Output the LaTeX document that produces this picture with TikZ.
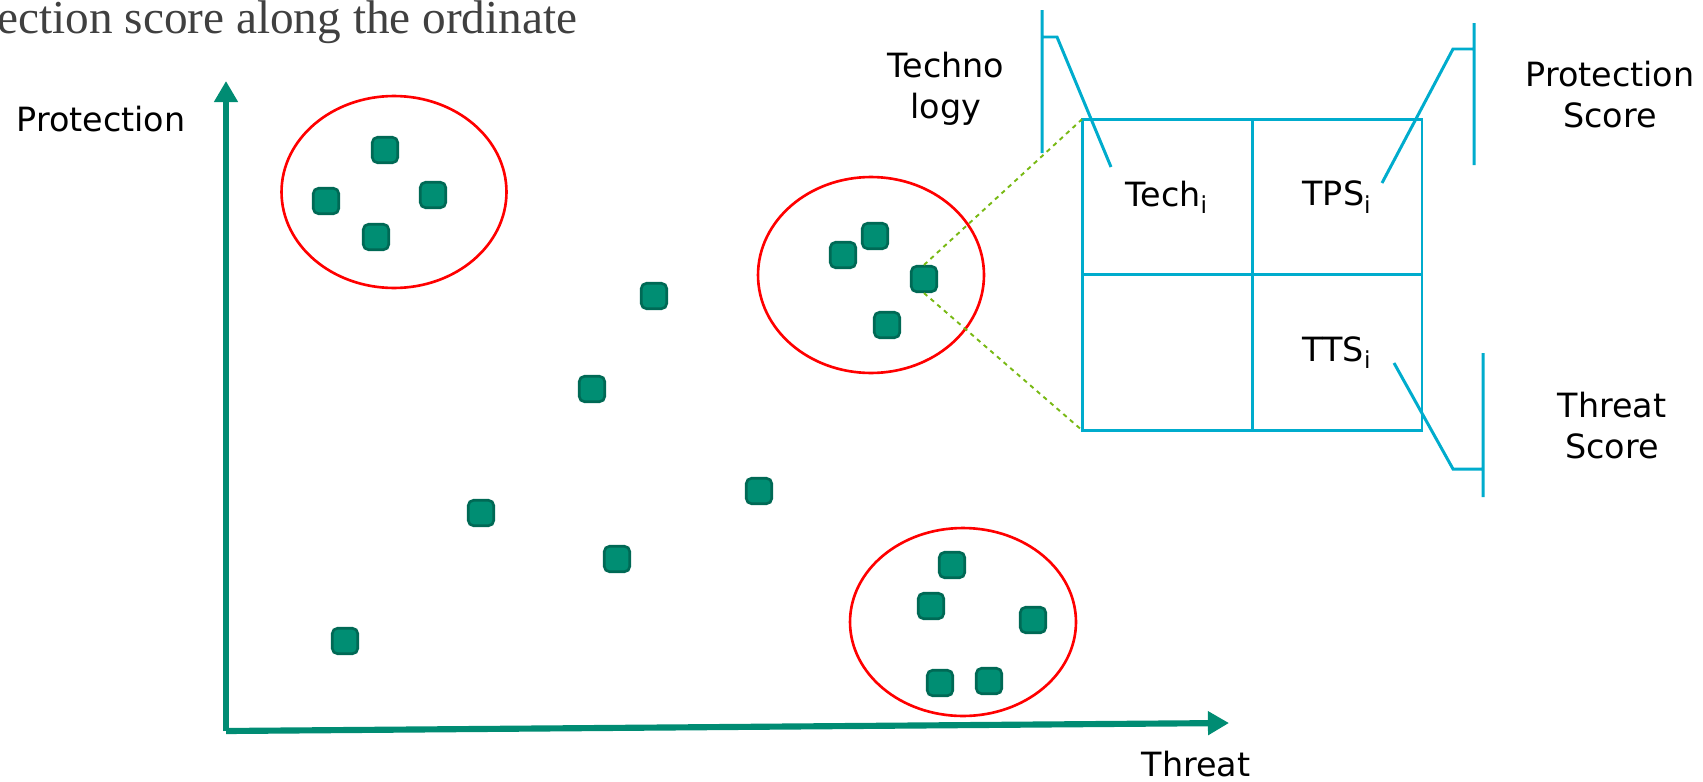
\documentclass[tikz,border=0pt]{standalone}
\usepackage{fontspec}
\setmainfont{DejaVu Sans}
\newfontfamily\titlefont{Liberation Serif}
\usetikzlibrary{arrows.meta,shapes.geometric}
\definecolor{axisteal}{RGB}{0,140,115}
\definecolor{ptfill}{RGB}{0,142,115}
\definecolor{ptdraw}{RGB}{0,105,85}
\definecolor{tabcyan}{RGB}{0,172,205}
\definecolor{linkgreen}{RGB}{120,185,20}
\definecolor{titlegray}{RGB}{64,64,64}
\tikzset{
  techpt/.style={draw=ptdraw,fill=ptfill,line width=1.5pt,rounded corners=3pt,
    minimum size=14.5pt,inner sep=0pt},
  cluster/.style={ellipse,draw=red,line width=1.5pt,inner sep=0pt},
  cell/.style={draw=tabcyan,line width=1.7pt,minimum width=3.4cm,
    minimum height=3.11cm,inner sep=0pt,outer sep=0pt,font=\fontsize{19}{23}\selectfont},
  lab/.style={inner sep=0pt,font=\fontsize{19}{23}\selectfont},
  axis/.style={draw=axisteal,line width=3.5pt,-{Triangle[length=12pt,width=13pt]}},
  brk/.style={draw=tabcyan,line width=1.7pt},
  linkdash/.style={draw=linkgreen,line width=1.1pt,dash pattern=on 2.5pt off 2.5pt}
}
\begin{document}
\begin{tikzpicture}[x=0.02cm,y=-0.02cm]
\useasboundingbox (0,0) rectangle (1703,781);
% title
   \node[anchor=base west,inner sep=0pt,text=titlegray,
   font=\titlefont\fontsize{26.9}{30}\selectfont] (title) at (-3,33)
   {ection score along the ordinate};
% axes
   \coordinate (orig) at (226,731); \coordinate (ytip) at (226,81);
   \coordinate (xtip) at (1229,723);
   \draw[axis] (orig) -- (ytip); \draw[axis] (orig) -- (xtip);
   \node[lab,anchor=base] (ylab) at (101,131) {Protection};
   \node[lab,anchor=base] (xlab) at (1196,776) {Threat};
% clusters
   \node[cluster,minimum width=4.5cm,minimum height=3.84cm] (grpA) at (394,192) {};
   \node[cluster,minimum width=4.52cm,minimum height=3.92cm] (grpB) at (871,275) {};
   \node[cluster,minimum width=4.52cm,minimum height=3.76cm] (grpC) at (963,622) {};
% technologies
   \node[techpt] (a1) at (385,150) {}; \node[techpt] (a2) at (326,201) {};
   \node[techpt] (a3) at (433,195) {}; \node[techpt] (a4) at (376,237) {};
   \node[techpt] (m1) at (654,296) {}; \node[techpt] (m2) at (592,389) {};
   \node[techpt] (m3) at (481,513) {}; \node[techpt] (m4) at (617,559) {};
   \node[techpt] (m5) at (759,491) {}; \node[techpt] (m6) at (345,641) {};
   \node[techpt] (b1) at (843,255) {}; \node[techpt] (b2) at (875,236) {};
   \node[techpt] (b3) at (924,279) {}; \node[techpt] (b4) at (887,325) {};
   \node[techpt] (c1) at (952,565) {}; \node[techpt] (c2) at (931,606) {};
   \node[techpt] (c3) at (1033,620) {}; \node[techpt] (c4) at (940,683) {};
   \node[techpt] (c5) at (989,681) {};
% tabella
   \node[cell] (techcell) at (1167,197) {Tech\textsubscript{i}};
   \node[cell] (tpscell) at (1337,197) {TPS\textsubscript{i}};
   \node[cell] (blankcell) at (1167,352.5) {};
   \node[cell] (ttscell) at (1337,352.5) {TTS\textsubscript{i}};
   \draw[linkdash] (b3.north) -- (techcell.north west);
   \draw[linkdash] (b3.south) -- (blankcell.south west);
% brackets
   \draw[brk] (1042,10) -- (1042,153) (1042,37) -- (1057,37) -- (1111,167);
   \draw[brk] (1474,23) -- (1474,165) (1474,49) -- (1453,49) -- (1382,183);
   \draw[brk] (1483,353) -- (1483,497) (1483,469) -- (1453,469) -- (1394,363);
   \node[lab,anchor=base,align=center] (technolab) at (946,118) {Techno\\logy};
   \node[lab,anchor=base,align=center] (pslab) at (1610,127) {Protection\\Score};
   \node[lab,anchor=base,align=center] (tslab) at (1612,458) {Threat\\Score};
\end{tikzpicture}
\end{document}
